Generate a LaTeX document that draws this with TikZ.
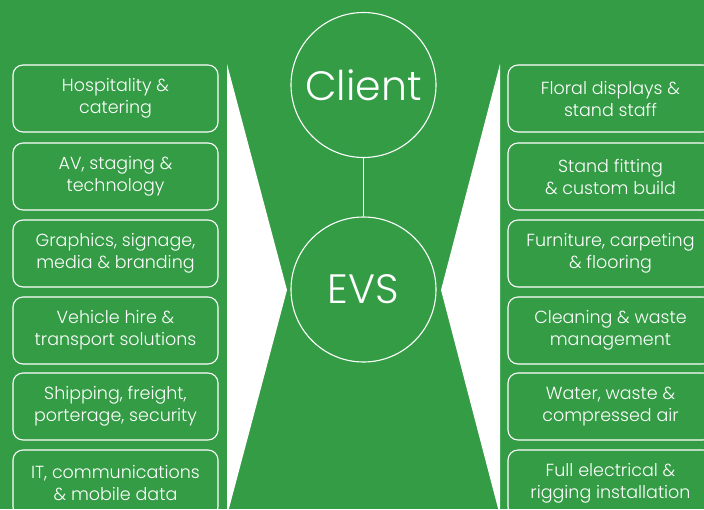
\documentclass[tikz,border=0pt]{standalone}
\usepackage{fontspec}
\setmainfont{Poppins}[UprightFont=* Light]
\definecolor{evsgreen}{RGB}{51,156,69}
\begin{document}
\begin{tikzpicture}[x=1pt,y=-1pt,
  svcbox/.style={draw=white, line width=1.1pt, rounded corners=10pt, minimum width=205pt, minimum height=67pt, inner sep=0pt, text=white, align=center, font=\fontsize{17.5}{22}\selectfont},
  hub/.style={draw=white, line width=1.1pt, circle, minimum size=145pt, inner sep=0pt, text=white, font=\fontsize{41}{44}\selectfont}]
\useasboundingbox (0,0) rectangle (704,509);
\clip (0,0) rectangle (704,509);
\fill[evsgreen] (0,0) rectangle (704,509);
% triangles
\fill[white] (227,64) -- (287,290) -- (227,516) -- cycle;
\fill[white] (500,64) -- (441,290) -- (500,516) -- cycle;
% hubs
\node[hub] (client) at (363.5,85) {Client};
\node[hub] (evs) at (363.5,289.5) {EVS};
\draw[white, line width=1.1pt] (client) -- (evs);
% left boxes
\node[svcbox] (l1) at (115.5,98.5) {Hospitality \&\\catering};
\node[svcbox] (l2) at (115.5,176.5) {AV, staging \&\\technology};
\node[svcbox] (l3) at (115.5,253.5) {Graphics, signage,\\media \& branding};
\node[svcbox] (l4) at (115.5,330.5) {Vehicle hire \&\\transport solutions};
\node[svcbox] (l5) at (115.5,406.5) {Shipping, freight,\\porterage, security};
\node[svcbox] (l6) at (115.5,483.5) {IT, communications\\\& mobile data};
% right boxes
\node[svcbox] (r1) at (610.5,98.5) {Floral displays \&\\stand staff};
\node[svcbox] (r2) at (610.5,176.5) {Stand fitting\\\& custom build};
\node[svcbox] (r3) at (610.5,253.5) {Furniture, carpeting\\\& flooring};
\node[svcbox] (r4) at (610.5,330.5) {Cleaning \& waste\\management};
\node[svcbox] (r5) at (610.5,406.5) {Water, waste \&\\compressed air};
\node[svcbox] (r6) at (610.5,483.5) {Full electrical \&\\rigging installation};
\end{tikzpicture}
\end{document}
